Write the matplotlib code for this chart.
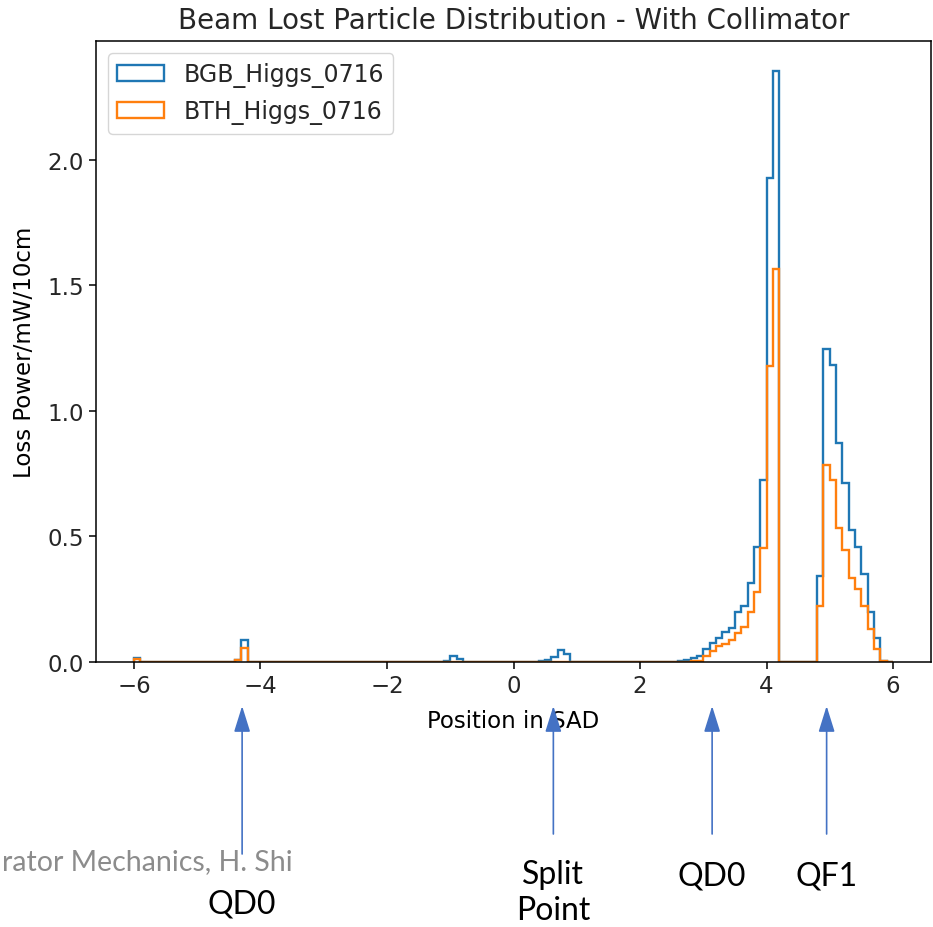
import numpy as np
import matplotlib
matplotlib.use("Agg")
import matplotlib.pyplot as plt

# bin edges: -6 .. 6 m in 10 cm steps
edges = np.linspace(-6, 6, 121)

# left edge of each non-empty bin and its loss power (mW/10cm)
bgb_bins = [-6.0, -4.4, -4.3, -1.1, -1.0, -0.9, 0.4, 0.5, 0.6, 0.7, 0.8,
            2.6, 2.7, 2.8, 2.9, 3.0, 3.1, 3.2, 3.3, 3.4, 3.5, 3.6, 3.7, 3.8, 3.9, 4.0, 4.1,
            4.8, 4.9, 5.0, 5.1, 5.2, 5.3, 5.4, 5.5, 5.6, 5.7, 5.8]
bgb_vals = [0.016, 0.008, 0.089, 0.005, 0.023, 0.012, 0.004, 0.008, 0.018, 0.048, 0.030,
            0.003, 0.009, 0.016, 0.023, 0.052, 0.074, 0.094, 0.118, 0.134, 0.198, 0.224, 0.315, 0.457, 0.726, 1.93, 2.356,
            0.344, 1.247, 1.185, 0.873, 0.713, 0.526, 0.457, 0.351, 0.200, 0.094, 0.003]

bth_bins = [-6.0, -4.4, -4.3,
            2.8, 2.9, 3.0, 3.1, 3.2, 3.3, 3.4, 3.5, 3.6, 3.7, 3.8, 3.9, 4.0, 4.1,
            4.8, 4.9, 5.0, 5.1, 5.2, 5.3, 5.4, 5.5, 5.6, 5.7, 5.8]
bth_vals = [0.012, 0.009, 0.056,
            0.003, 0.003, 0.025, 0.045, 0.063, 0.072, 0.088, 0.115, 0.138, 0.198, 0.278, 0.453, 1.18, 1.566,
            0.224, 0.786, 0.726, 0.534, 0.447, 0.333, 0.291, 0.224, 0.131, 0.052, 0.005]

labels = ["BGB_Higgs_0716", "BTH_Higgs_0716"]

# magnet markers drawn below the plot
marker_names = ["QD0", "Split\nPoint", "QD0", "QF1"]
marker_pos = [-4.29, 0.63, 3.14, 4.95]


def fill(bins, vals):
    out = np.zeros(len(edges) - 1)
    for b, v in zip(bins, vals):
        out[int(round((b + 6) * 10))] = v
    return out


centers = (edges[:-1] + edges[1:]) / 2

plt.rcParams["font.size"] = 16.5
plt.rcParams["xtick.major.size"] = 5
plt.rcParams["ytick.major.size"] = 5
plt.rcParams["xtick.major.width"] = 1.1
plt.rcParams["ytick.major.width"] = 1.1
plt.rcParams["axes.linewidth"] = 1.1
plt.rcParams["text.color"] = "#262626"
plt.rcParams["xtick.labelcolor"] = "#262626"
plt.rcParams["ytick.labelcolor"] = "#262626"

fig = plt.figure(figsize=(9.33, 9.28), dpi=100)
W, H = 933, 928
ax = fig.add_axes([96 / W, 1 - 663 / H, (931 - 96) / W, (663 - 42) / H])

ax.hist(centers, bins=edges, weights=fill(bgb_bins, bgb_vals), histtype="step",
        linewidth=1.7, color="#1f77b4", label=labels[0])
ax.hist(centers, bins=edges, weights=fill(bth_bins, bth_vals), histtype="step",
        linewidth=1.7, color="#ff7f0e", label=labels[1])

ax.set_xlabel("Position in SAD", labelpad=9)
ax.set_ylabel("Loss Power/mW/10cm", labelpad=8)
ax.set_title("Beam Lost Particle Distribution - With Collimator", fontsize=20, pad=9)
ax.legend(loc="upper left", prop={"size": 17})

# slide overlay: footer and arrows
slide_font = ["Lato", "DejaVu Sans"]
fig.text(293 / W, 1 - 862 / H, "rator Mechanics, H. Shi", ha="right", va="center",
         fontsize=20.5, color="#8c8c8c", family=slide_font)

for i, (name, pos) in enumerate(zip(marker_names, marker_pos)):
    tail = 855 if i == 0 else 835
    ax.annotate("", xy=(pos, 1 - 707 / H), xytext=(pos, 1 - tail / H),
                xycoords=("data", "figure fraction"), textcoords=("data", "figure fraction"),
                arrowprops=dict(arrowstyle="-|>,head_length=0.8,head_width=0.25", color="#4472C4",
                                lw=1.2, mutation_scale=20, shrinkA=0, shrinkB=0),
                annotation_clip=False)
    ty = 905 if i == 0 else (893 if "\n" in name else 877)
    ax.annotate(name, xy=(pos, 1 - ty / H), xycoords=("data", "figure fraction"),
                ha="center", va="center", fontsize=23, family=slide_font, color="black",
                linespacing=1.25, annotation_clip=False)

fig.savefig("out.png", dpi=100)
